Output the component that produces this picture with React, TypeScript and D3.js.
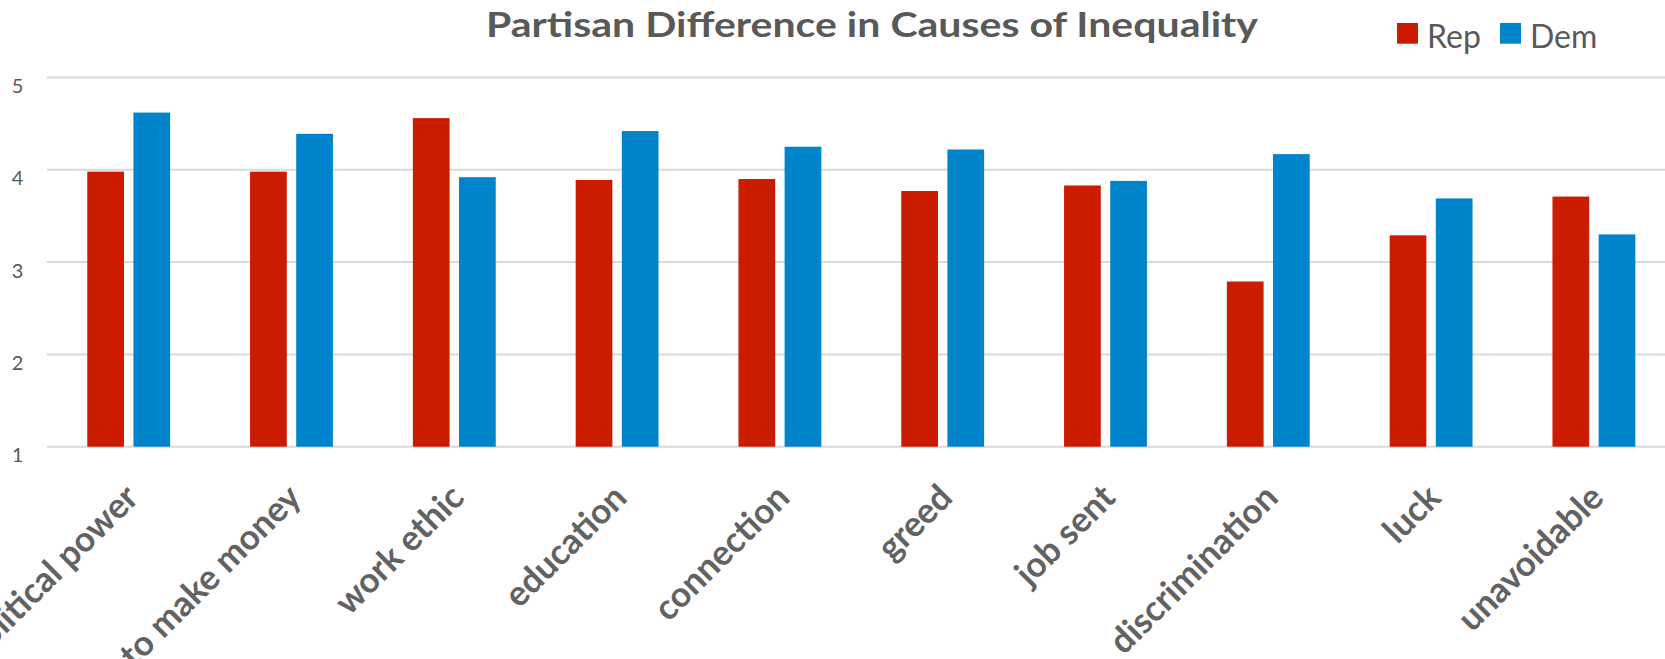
import React from 'react';
import * as d3 from 'd3';

// chart data
const categories = [
  'political power',
  'ability to make money',
  'work ethic',
  'education',
  'connection',
  'greed',
  'job sent',
  'discrimination',
  'luck',
  'unavoidable',
];
const series = ['Rep', 'Dem'];
const repValues = [3.98, 3.98, 4.56, 3.89, 3.9, 3.77, 3.83, 2.79, 3.29, 3.71];
const demValues = [4.62, 4.39, 3.92, 4.42, 4.25, 4.22, 3.88, 4.17, 3.69, 3.3];
const yTicks = [1, 2, 3, 4, 5];

const colors: Record<string, string> = { Rep: '#cc1c00', Dem: '#0084cc' };
const W = 1665;
const H = 659;
const FONT = 'Lato, "Open Sans", sans-serif';
const TEXT = '#595959';

export default function App() {
  const x0 = d3.scaleBand<string>()
    .domain(categories)
    .range([47.3, 1675.3])
    .paddingInner(0.491)
    .paddingOuter(0.2455);

  const x1 = d3.scaleBand<string>()
    .domain(series)
    .range([0, x0.bandwidth()])
    .paddingInner(0.204);

  const y = d3.scaleLinear().domain([1, 5]).range([446.7, 77.5]);

  const rows = categories.map((c, i) => ({ cat: c, Rep: repValues[i], Dem: demValues[i] }));

  return (
    <svg
      width={W}
      height={H}
      style={{ position: 'absolute', left: 0, top: 0, background: '#fff' }}
      fontFamily={FONT}
    >
      {/* Title */}
      <text
        x={872}
        y={37.3}
        textAnchor="middle"
        fontSize={34}
        fontWeight={700}
        fill={TEXT}
        textLength={772}
        lengthAdjust="spacingAndGlyphs"
      >
        Partisan Difference in Causes of Inequality
      </text>

      {/* Legend */}
      <g>
        <rect x={1397} y={23} width={21} height={20.7} fill={colors.Rep} />
        <text x={1427} y={47.7} fontSize={32} fill={TEXT}>Rep</text>
        <rect x={1500} y={23} width={21} height={20.7} fill={colors.Dem} />
        <text x={1530} y={47.7} fontSize={32} fill={TEXT}>Dem</text>
      </g>

      {/* Gridlines + y labels */}
      {yTicks.map((t) => (
        <g key={t}>
          <line x1={47} x2={W} y1={y(t)} y2={y(t)} stroke="#d9d9d9" strokeWidth={2} />
          <text x={17.5} y={y(t) + 15.5} textAnchor="middle" fontSize={20} fill={TEXT}>
            {t}
          </text>
        </g>
      ))}

      {/* Bars */}
      {rows.map((r) => (
        <g key={r.cat} transform={`translate(${x0(r.cat)},0)`}>
          {series.map((s) => {
            const v = (r as any)[s] as number;
            return (
              <rect
                key={s}
                x={x1(s)}
                y={y(v)}
                width={x1.bandwidth()}
                height={y(1) - y(v)}
                fill={colors[s]}
              />
            );
          })}
        </g>
      ))}

      {/* X labels */}
      {categories.map((c) => {
        const cx = (x0(c) ?? 0) + x0.bandwidth() / 2;
        return (
          <text
            key={c}
            transform={`translate(${cx + 3},${491}) rotate(-45)`}
            textAnchor="end"
            dy="0.35em"
            fontSize={35}
            fontWeight={700}
            fill="#626262"
          >
            {c}
          </text>
        );
      })}
    </svg>
  );
}
